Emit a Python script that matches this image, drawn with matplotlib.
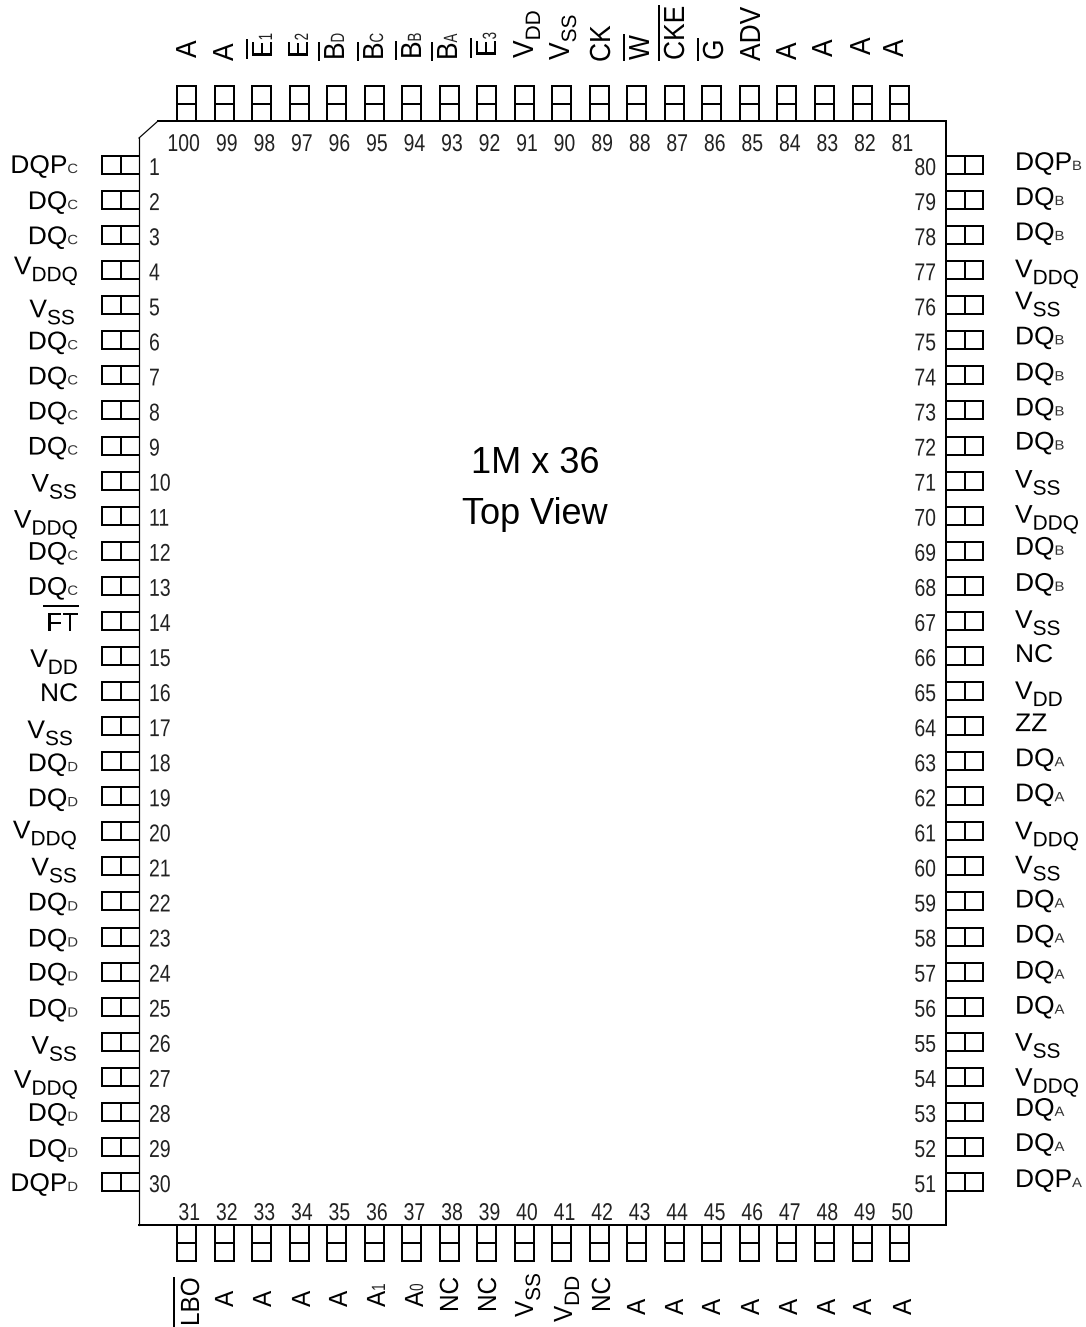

import matplotlib
matplotlib.use("Agg")
import matplotlib.pyplot as plt
from matplotlib.patheffects import AbstractPathEffect
from matplotlib.transforms import Affine2D

# pin names, "_" starts the subscript and "/" means an overbar
left_pins = ["DQP_C", "DQ_C", "DQ_C", "V_DDQ", "V_SS", "DQ_C", "DQ_C", "DQ_C", "DQ_C", "V_SS",
             "V_DDQ", "DQ_C", "DQ_C", "/FT", "V_DD", "NC", "V_SS", "DQ_D", "DQ_D", "V_DDQ",
             "V_SS", "DQ_D", "DQ_D", "DQ_D", "DQ_D", "V_SS", "V_DDQ", "DQ_D", "DQ_D", "DQP_D"]
left_numbers = list(range(1, 31))

right_pins = ["DQP_B", "DQ_B", "DQ_B", "V_DDQ", "V_SS", "DQ_B", "DQ_B", "DQ_B", "DQ_B", "V_SS",
              "V_DDQ", "DQ_B", "DQ_B", "V_SS", "NC", "V_DD", "ZZ", "DQ_A", "DQ_A", "V_DDQ",
              "V_SS", "DQ_A", "DQ_A", "DQ_A", "DQ_A", "V_SS", "V_DDQ", "DQ_A", "DQ_A", "DQP_A"]
right_numbers = list(range(80, 50, -1))

top_pins = ["A", "A", "/E_1", "E_2", "/B_D", "/B_C", "/B_B", "/B_A", "/E_3", "V_DD",
            "V_SS", "CK", "/W", "/CKE", "/G", "ADV", "A", "A", "A", "A"]
top_numbers = list(range(100, 80, -1))

bottom_pins = ["/LBO", "A", "A", "A", "A", "A_1", "A_0", "NC", "NC", "V_SS",
               "V_DD", "NC", "A", "A", "A", "A", "A", "A", "A", "A"]
bottom_numbers = list(range(31, 51))

title_lines = ["1M x 36", "Top View"]

# the labels in the original sit a little off grid, so keep their nudges here
left_dy = [-1, 0, 0, -5, 3, 0, 0, 0, 0, 2, 3, 0, 0, 1, 2, 1, 3, 1, 1, -2,
           0, 0, 1, 0, 1, 3, 2, 0, 1, 0]
left_dx = [0, 0, 0, 0, -3, 0, 0, 0, 0, -1, 0, 0, 0, 0, 0, 0, -5, 0, 0, -1,
           -1, 0, 0, 0, 0, -1, 0, 0, 0, 0]
right_dy = [-4, -4, -4, -2, -5, -5, -4, -4, -5, -2, -2, -5, -4, -2, -3, -1, -4, -4, -4, -1,
            -2, -3, -3, -2, -2, 0, 0, -5, -5, -4]
top_base_x = [196, 233, 272, 308, 344, 383, 421, 457, 496, 533,
              569, 610, 649, 684, 723, 760, 796, 832, 870, 903]
top_base_y = [58, 61, 58, 58, 60, 60, 59, 60, 57, 58,
              60, 62, 60, 60, 60, 61, 60, 57, 55, 57]
bottom_base_x = [199, 233, 271, 310, 347, 385, 423, 458, 496, 533,
                 572, 610, 645, 683, 720, 759, 797, 835, 871, 911]
bottom_base_y = [1326, 1307, 1307, 1307, 1307, 1307, 1307, 1312, 1312, 1317,
                 1322, 1312, 1315, 1315, 1315, 1315, 1315, 1315, 1315, 1315]

sans = "Liberation Sans"

# body corners and pin grid, in pixels of the picture
body_left, body_right, body_top, body_bottom = 139, 946, 121, 1225
chamfer_x, chamfer_y = 158, 138
row_top, row_h, row_pitch = 156, 18, 35.07
col_left, col_w, col_pitch = 177, 19, 37.53
stub = 37
lw = 2.0 * 72 / 100

fig = plt.figure(figsize=(10.86, 13.27), dpi=100)
ax = fig.add_axes([0, 0, 1, 1])
ax.set_xlim(0, 1086)
ax.set_ylim(1327, 0)
ax.axis("off")
renderer = fig.canvas.get_renderer()


class Stretch(AbstractPathEffect):
    # the original type is squeezed, this scales the glyphs along and across the run
    def __init__(self, sx, sy):
        super().__init__()
        self.sx, self.sy = sx, sy

    def draw_path(self, renderer, gc, tpath, affine, rgbFace=None):
        renderer.draw_path(gc, tpath, Affine2D().scale(self.sx, self.sy) + affine, rgbFace)


def hline(x0, x1, y, width=lw):
    ax.plot([x0, x1], [y, y], color="black", lw=width, solid_capstyle="projecting")


def vline(x, y0, y1, width=lw):
    ax.plot([x, x], [y0, y1], color="black", lw=width, solid_capstyle="projecting")


def split_name(name):
    bar = name.startswith("/")
    main, _, sub = name.lstrip("/").partition("_")
    return bar, main, sub


def measure(s, size, sx=1.0):
    probe = ax.text(0, 0, s, fontsize=size, family=sans)
    w = probe.get_window_extent(renderer).width
    probe.remove()
    return w * sx


def piece(x, y, s, size, rotated=False, color="black", sx=1.0, sy=1.0):
    # one run of text at its baseline
    ax.text(x, y, s, fontsize=size, family=sans, color=color,
            rotation=90 if rotated else 0, rotation_mode="anchor",
            ha="left", va="baseline", path_effects=[Stretch(sx, sy)])


def sub_style(main, rotated):
    # V has a big dropped subscript, the others a small one on the baseline
    if main == "V":
        return dict(size=15, color="black", sx=1.0, sy=1.0), 7
    if rotated:
        return dict(size=12, color="#222222", sx=0.8, sy=1.15), 0
    return dict(size=10, color="#333333", sx=1.07, sy=0.97), 0


def horizontal_label(name, x, y, right_align):
    bar, main, sub = split_name(name)
    size, sy = 19, 0.97
    style, drop = sub_style(main, False)
    w_main = measure(main, size)
    w_sub = measure(sub, style["size"], style["sx"]) if sub else 0
    x0 = x - w_main - w_sub if right_align else x
    piece(x0, y, main, size, sy=sy)
    if sub:
        piece(x0 + w_main, y + drop, sub, rotated=False, **style)
    if bar:
        hline(x0 - 2, x0 + w_main, y - 25)


def vertical_label(name, base_x, base_y, size, sy):
    bar, main, sub = split_name(name)
    style, drop = sub_style(main, True)
    length = measure(main, size)
    piece(base_x, base_y, main, size, rotated=True, sy=sy)
    if sub:
        piece(base_x + drop, base_y - length, sub, rotated=True, **style)
    if bar:
        vline(base_x - 25.5, base_y, base_y - length)


def number(num, x, y, right_align=False):
    s = str(num)
    if right_align:
        x = x - measure(s, 17.5, 0.8)
    piece(x, y, s, 17.5, color="#222222", sx=0.8)


# package outline, the left side and the chamfer print thinner
hline(chamfer_x, body_right, body_top)
vline(body_right, body_top, body_bottom)
hline(body_left, body_right, body_bottom)
vline(body_left, chamfer_y, body_bottom, width=lw * 0.6)
ax.plot([chamfer_x, body_left], [body_top, chamfer_y], color="black", lw=lw * 0.6)

# left and right rows
for i, (name, num) in enumerate(zip(left_pins, left_numbers)):
    y0 = row_top + i * row_pitch
    y1 = y0 + row_h
    hline(body_left - stub, body_left, y0)
    hline(body_left - stub, body_left, y1)
    vline(body_left - stub, y0, y1)
    vline(body_left - stub / 2 + 0.5, y0, y1)
    horizontal_label(name, 78 + left_dx[i], y1 + left_dy[i], True)
    number(num, 149, y1 + 1)

for i, (name, num) in enumerate(zip(right_pins, right_numbers)):
    y0 = row_top + i * row_pitch
    y1 = y0 + row_h
    hline(body_right, body_right + stub, y0)
    hline(body_right, body_right + stub, y1)
    vline(body_right + stub, y0, y1)
    vline(body_right + stub / 2, y0, y1)
    horizontal_label(name, 1015, y1 + right_dy[i], False)
    number(num, 936, y1 + 1, right_align=True)

# top and bottom rows
for i, (name, num) in enumerate(zip(top_pins, top_numbers)):
    x0 = col_left + i * col_pitch
    x1 = x0 + col_w
    vline(x0, body_top - 35, body_top)
    vline(x1, body_top - 35, body_top)
    hline(x0, x1, body_top - 35)
    hline(x0, x1, body_top - 17)
    vertical_label(name, top_base_x[i], top_base_y[i], 19, 1.1)
    number(num, x1 + 4, 151, right_align=True)

for i, (name, num) in enumerate(zip(bottom_pins, bottom_numbers)):
    x0 = col_left + i * col_pitch
    x1 = x0 + col_w
    vline(x0, body_bottom, body_bottom + 36)
    vline(x1, body_bottom, body_bottom + 36)
    hline(x0, x1, body_bottom + 36)
    hline(x0, x1, body_bottom + 18)
    vertical_label(name, bottom_base_x[i], bottom_base_y[i], 17.5, 1.08)
    number(num, x1 + 4, 1220, right_align=True)

# centre caption
ax.text(535, 473, title_lines[0], fontsize=26, family=sans, ha="center", va="baseline")
ax.text(535, 524, title_lines[1], fontsize=26, family=sans, ha="center", va="baseline")

fig.savefig("out.png", dpi=100, facecolor="white")
